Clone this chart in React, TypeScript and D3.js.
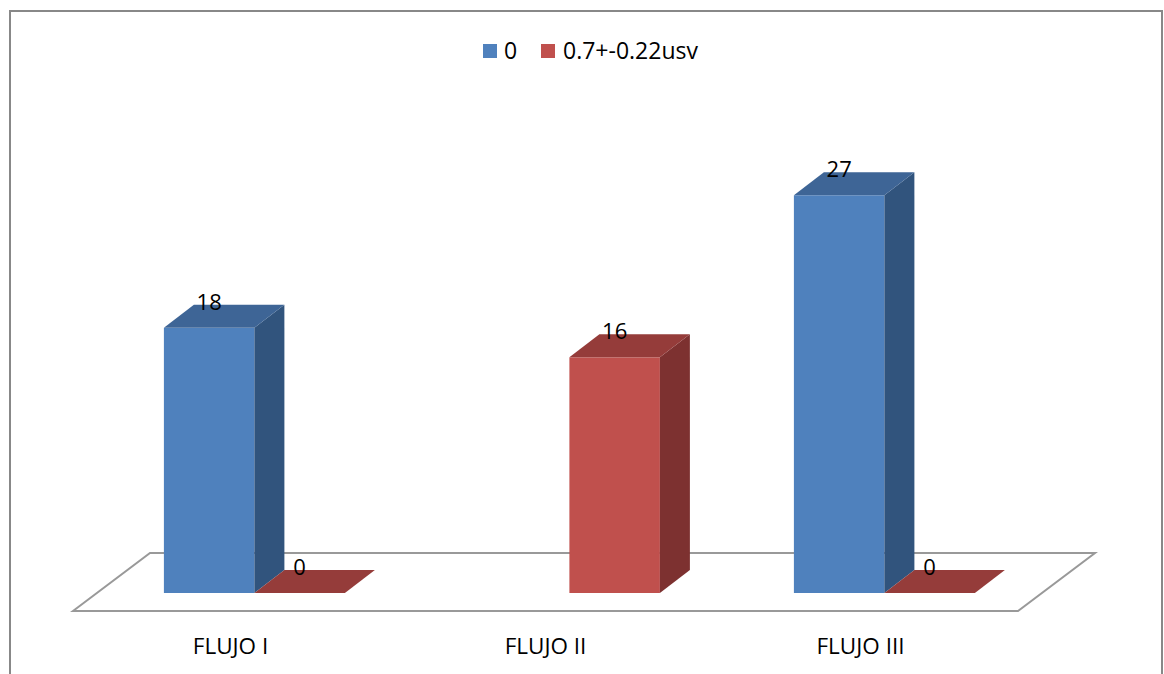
import React from "react";
import * as d3 from "d3";

const categories = ["FLUJO I", "FLUJO II", "FLUJO III"];
const seriesNames = ["0", "0.7+-0.22usv"];
const seriesA: (number | null)[] = [18, null, 27];
const seriesB: (number | null)[] = [0, 16, 0];

const W = 1164;
const H = 674;
const FONT = "'Open Sans', sans-serif";

const colors = [
  { front: "#4F81BD", top: "#3E6596", side: "#31547D" },
  { front: "#C0504D", top: "#953C3A", side: "#7D3130" },
];

export default function App() {
  const floorFrontY = 611;
  const floorBackY = 553;
  const floorFrontLeft = 73;
  const floorFrontRight = 1018;
  const floorDX = 77;
  const baseY = 593;
  const shift = ((floorFrontY - baseY) * floorDX) / (floorFrontY - floorBackY);
  const depthDX = 30;
  const depthDY = -23;

  const x0 = d3
    .scaleBand<string>()
    .domain(categories)
    .range([floorFrontLeft + shift, floorFrontRight + shift])
    .paddingInner(0.4254)
    .paddingOuter(0.2127);
  const x1 = d3
    .scaleBand<string>()
    .domain(seriesNames)
    .range([0, x0.bandwidth()]);
  const y = d3.scaleLinear().domain([0, 30]).range([baseY, baseY - 30 * 14.73]);

  const labelScale = d3
    .scaleBand<string>()
    .domain(categories)
    .range([floorFrontLeft, floorFrontRight]);

  const all = [seriesA, seriesB];
  const bars: any[] = [];
  categories.forEach((c, ci) => {
    all.forEach((s, si) => {
      const v = s[ci];
      if (v === null || v === undefined) return;
      bars.push({ c, si, v, x: (x0(c) as number) + (x1(seriesNames[si]) as number), w: x1.bandwidth() });
    });
  });

  const floorPts = [
    [floorFrontLeft, floorFrontY],
    [floorFrontLeft + floorDX, floorBackY],
    [floorFrontRight + floorDX, floorBackY],
    [floorFrontRight, floorFrontY],
  ];

  return (
    <svg
      width={W}
      height={H}
      style={{ position: "absolute", left: 0, top: 0, background: "#fff" }}
      fontFamily={FONT}
    >
      <rect x={10} y={11} width={1152} height={720} fill="#fff" stroke="#888" strokeWidth={2} />
      <polygon
        points={floorPts.map((p) => p.join(",")).join(" ")}
        fill="#fff"
        stroke="#999"
        strokeWidth={2}
      />
      {bars.map((b, i) => {
        const top = y(b.v);
        const col = colors[b.si];
        const x = b.x;
        const w = b.w;
        const topFace = [
          [x, top],
          [x + depthDX, top + depthDY],
          [x + w + depthDX, top + depthDY],
          [x + w, top],
        ];
        const sideFace = [
          [x + w, top],
          [x + w + depthDX, top + depthDY],
          [x + w + depthDX, baseY + depthDY],
          [x + w, baseY],
        ];
        return (
          <g key={i}>
            {b.v > 0 && (
              <rect x={x} y={top} width={w} height={baseY - top} fill={col.front} />
            )}
            {b.v > 0 && (
              <polygon points={sideFace.map((p) => p.join(",")).join(" ")} fill={col.side} />
            )}
            <polygon points={topFace.map((p) => p.join(",")).join(" ")} fill={col.top} />
          </g>
        );
      })}
      {bars.map((b, i) => (
        <text
          key={"l" + i}
          x={b.x + b.w / 2}
          y={y(b.v) - 18}
          textAnchor="middle"
          fontSize={22}
          fill="#000"
        >
          {b.v}
        </text>
      ))}
      {categories.map((c) => (
        <text
          key={c}
          x={(labelScale(c) as number) + labelScale.bandwidth() / 2}
          y={654}
          textAnchor="middle"
          fontSize={22.5}
          fill="#000"
        >
          {c}
        </text>
      ))}
      <g>
        <rect x={483} y={44} width={14} height={14} fill={colors[0].front} />
        <text x={504} y={59} fontSize={23} fill="#000">
          {seriesNames[0]}
        </text>
        <rect x={541} y={44} width={14} height={14} fill={colors[1].front} />
        <text x={563} y={59} fontSize={23} fill="#000">
          {seriesNames[1]}
        </text>
      </g>
    </svg>
  );
}
